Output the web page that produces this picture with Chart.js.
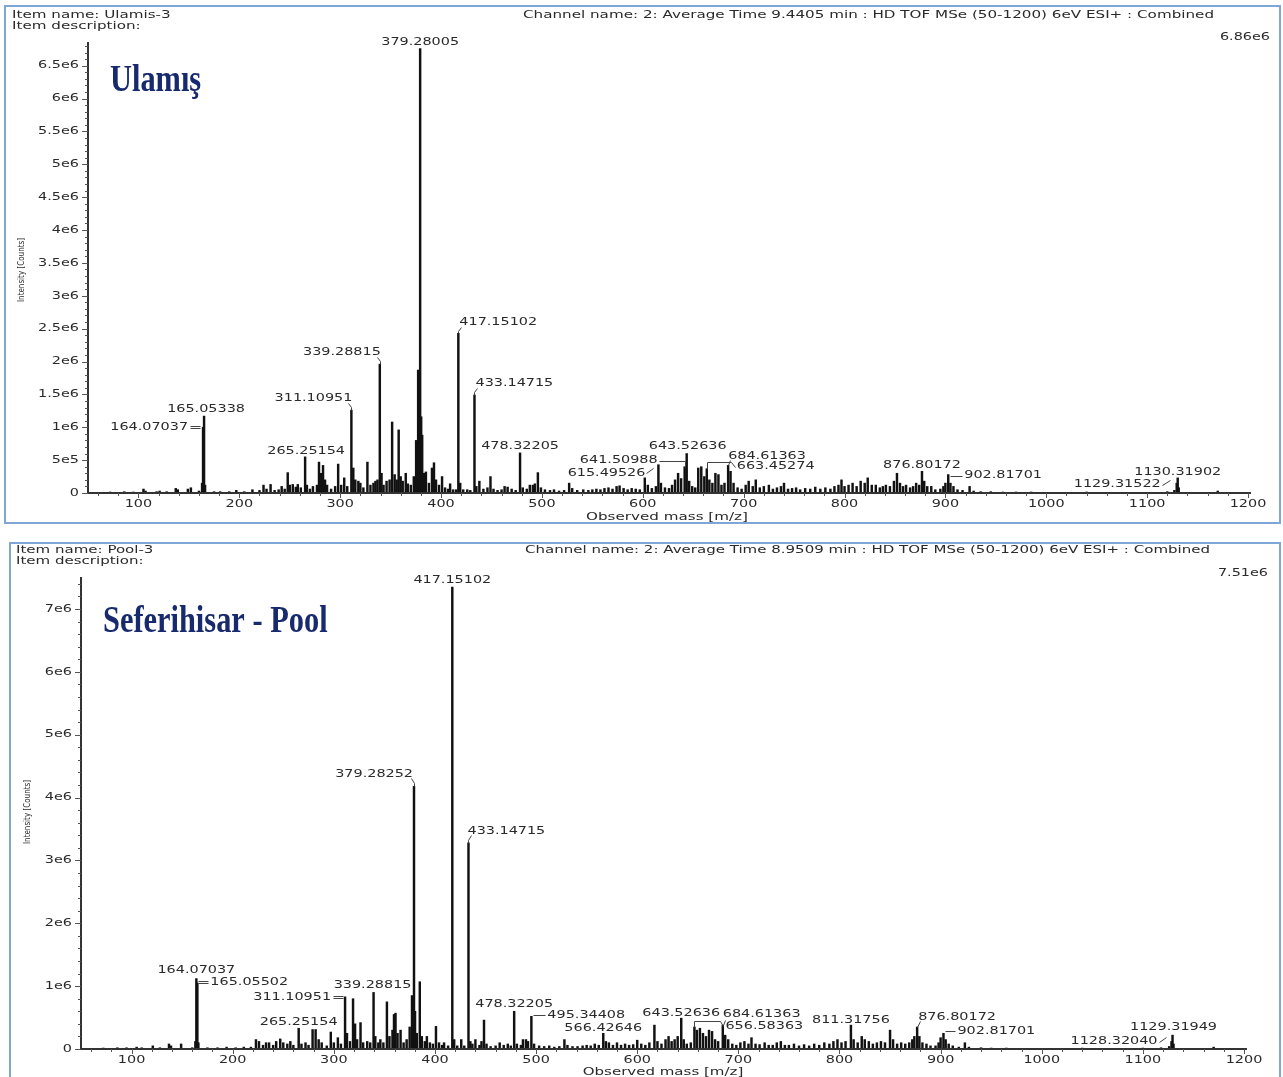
<!DOCTYPE html>
<html><head><meta charset="utf-8">
<script src="https://cdn.jsdelivr.net/npm/chart.js@4.4.1/dist/chart.umd.min.js"></script>
<style>
html,body{margin:0;padding:0;background:#fff;overflow:hidden;width:1283px;height:1077px;}
.frame{position:absolute;box-sizing:border-box;border:2px solid #7ea6d9;}
canvas{position:absolute;left:0;}
</style></head><body>
<div class="frame" style="left:4px;top:5px;width:1277px;height:519px"></div>
<div class="frame" style="left:9px;top:542px;width:1272px;height:560px"></div>
<canvas id="c1" width="1283" height="533" style="top:0px"></canvas>
<canvas id="c2" width="1283" height="544" style="top:533px"></canvas>
<script>
// ---------------- DATA ----------------
const xTickValues = [100,200,300,400,500,600,700,800,900,1000,1100,1200];
const xTickLabels = ['100','200','300','400','500','600','700','800','900','1000','1100','1200'];

// Intensities in units of 1e6 counts
const yTickValues1 = [0,0.5,1,1.5,2,2.5,3,3.5,4,4.5,5,5.5,6,6.5];
const yTickLabels1 = ['0','5e5','1e6','1.5e6','2e6','2.5e6','3e6','3.5e6','4e6','4.5e6','5e6','5.5e6','6e6','6.5e6'];
const yTickValues2 = [0,1,2,3,4,5,6,7];
const yTickLabels2 = ['0','1e6','2e6','3e6','4e6','5e6','6e6','7e6'];
const maxLabel1 = '6.86e6', yMax1 = 6.86;
const maxLabel2 = '7.51e6', yMax2 = 7.51;

// [m/z, intensity (1e6 counts)]
const spectrum1 = [
[58,0.01],[72,0.015],[86,0.02],[95,0.015],[105,0.06],[107,0.03],[118,0.02],[121,0.03],[128,0.02],[137,0.07],[139,0.05],[149,0.06],[152,0.08],[160,0.03],[163.1,0.15],[164.07,1.0],[165.05,1.17],[166.06,0.12],[175,0.02],[181,0.02],[190,0.02],[197,0.04],[205,0.02],[213,0.05],[220,0.04],[224,0.12],[227,0.06],[231,0.13],[235,0.04],[239,0.05],[242,0.1],[245,0.06],[248,0.31],[250,0.12],[253,0.13],[256,0.09],[258,0.13],[261,0.08],[265.25,0.55],[267,0.12],[270,0.06],[273,0.1],[277,0.12],[279,0.47],[281,0.3],[283,0.42],[285,0.2],[287,0.12],[291,0.06],[295,0.1],[298,0.44],[301,0.12],[304,0.23],[307,0.1],[311.11,1.26],[313,0.38],[315,0.2],[318,0.18],[320,0.15],[323,0.08],[327,0.47],[330,0.12],[333,0.15],[335,0.18],[337,0.2],[339.29,1.96],[341,0.3],[343,0.12],[346,0.18],[349,0.2],[351.5,1.08],[354,0.28],[356,0.2],[358,0.96],[360,0.25],[362,0.18],[365,0.3],[367,0.14],[370,0.12],[373,0.25],[375.3,0.8],[377.3,1.87],[379.28,6.76],[380.3,1.16],[381.3,0.88],[383,0.3],[385,0.32],[388,0.15],[391,0.38],[393,0.46],[395,0.2],[398,0.12],[401,0.25],[404,0.08],[407,0.06],[409,0.14],[412,0.05],[415,0.05],[417.15,2.43],[419,0.15],[422,0.05],[426,0.05],[429,0.04],[433.15,1.49],[435,0.1],[438,0.18],[442,0.06],[446,0.08],[449,0.25],[452,0.06],[456,0.04],[460,0.05],[463,0.1],[466,0.09],[470,0.06],[474,0.04],[478.32,0.61],[481,0.08],[485,0.06],[488,0.12],[491,0.12],[493,0.14],[496,0.31],[499,0.08],[503,0.05],[508,0.04],[512,0.05],[517,0.03],[522,0.04],[527,0.15],[530,0.07],[535,0.04],[541,0.05],[546,0.04],[550,0.05],[554,0.06],[558,0.05],[562,0.07],[566,0.08],[570,0.06],[574,0.1],[577,0.11],[581,0.07],[585,0.05],[589,0.07],[593,0.06],[597,0.05],[602,0.23],[605,0.12],[609,0.07],[613,0.1],[615.5,0.43],[618,0.15],[622,0.08],[626,0.07],[629,0.12],[632,0.2],[635,0.3],[638,0.22],[641.51,0.4],[643.53,0.6],[646,0.18],[649,0.1],[652,0.08],[655,0.38],[658,0.4],[661,0.25],[663.45,0.37],[666,0.2],[669,0.15],[672,0.3],[675,0.28],[678,0.12],[681,0.15],[684.61,0.42],[687,0.33],[690,0.15],[694,0.08],[698,0.06],[702,0.12],[705,0.18],[709,0.1],[712,0.2],[716,0.08],[720,0.1],[725,0.12],[729,0.06],[733,0.08],[737,0.1],[740,0.15],[744,0.06],[748,0.07],[752,0.08],[756,0.05],[761,0.07],[766,0.06],[771,0.09],[776,0.06],[781,0.08],[786,0.06],[790,0.1],[794,0.12],[797,0.2],[800,0.1],[804,0.12],[808,0.15],[812,0.1],[816,0.18],[820,0.15],[823,0.23],[827,0.12],[831,0.12],[835,0.08],[838,0.1],[841,0.12],[845,0.1],[849,0.18],[852,0.3],[855,0.15],[858,0.1],[861,0.12],[865,0.08],[868,0.1],[871,0.15],[874,0.12],[876.8,0.33],[879,0.18],[882,0.1],[886,0.1],[890,0.05],[895,0.06],[898,0.1],[900,0.15],[902.82,0.28],[905,0.15],[908,0.1],[912,0.05],[917,0.04],[924,0.1],[928,0.03],[935,0.02],[945,0.02],[957,0.015],[970,0.015],[985,0.015],[1000,0.01],[1020,0.01],[1040,0.015],[1060,0.01],[1080,0.01],[1100,0.01],[1120,0.02],[1127,0.04],[1129.32,0.15],[1130.32,0.23],[1131.3,0.08],[1145,0.01],[1170,0.03],[1185,0.01]
];

const spectrum2 = [
[58,0.01],[72,0.015],[86,0.02],[95,0.02],[105,0.03],[110,0.02],[121,0.05],[128,0.02],[137,0.08],[139,0.05],[149,0.08],[160,0.02],[163.1,0.12],[164.07,1.12],[165.06,1.05],[166.06,0.1],[175,0.02],[185,0.02],[194,0.03],[203,0.02],[211,0.03],[218,0.03],[223,0.15],[226,0.12],[230,0.06],[233,0.1],[236,0.1],[240,0.06],[243,0.12],[247,0.16],[250,0.1],[254,0.08],[257,0.12],[260,0.06],[265.25,0.33],[268,0.08],[272,0.1],[275,0.06],[279,0.31],[282,0.31],[285,0.15],[288,0.1],[293,0.05],[297,0.27],[300,0.1],[304,0.18],[307,0.08],[311.11,0.83],[313,0.25],[316,0.12],[319,0.8],[321,0.4],[323,0.15],[326.4,0.42],[329,0.1],[333,0.12],[336,0.1],[339.29,0.9],[341,0.2],[344,0.1],[346,0.15],[349,0.1],[352.5,0.75],[355,0.2],[358,0.3],[359.5,0.55],[361,0.57],[363,0.25],[366,0.3],[369,0.1],[372,0.15],[375,0.35],[377.3,0.85],[379.28,4.18],[380.3,0.6],[382,0.25],[385,1.07],[387,0.2],[390,0.12],[392,0.2],[395,0.1],[398,0.08],[401,0.36],[404,0.1],[407,0.06],[409,0.1],[413,0.05],[417.15,7.35],[419,0.15],[422,0.05],[426,0.15],[429,0.05],[433.15,3.28],[435,0.12],[437,0.08],[440,0.15],[444,0.06],[446,0.12],[448.5,0.46],[451,0.08],[455,0.04],[460,0.05],[464,0.1],[468,0.06],[472,0.08],[475,0.05],[478.32,0.6],[481,0.08],[485,0.06],[487,0.15],[490,0.15],[492,0.12],[495.34,0.52],[498,0.08],[503,0.05],[508,0.04],[513,0.05],[518,0.03],[523,0.04],[528,0.15],[531,0.06],[536,0.04],[541,0.04],[546,0.05],[550,0.06],[554,0.05],[558,0.08],[562,0.06],[566.43,0.25],[569,0.12],[572,0.1],[576,0.06],[580,0.1],[584,0.06],[588,0.08],[592,0.06],[596,0.07],[600,0.14],[604,0.08],[608,0.06],[612,0.1],[617,0.38],[620,0.12],[624,0.08],[628,0.15],[631,0.2],[634,0.12],[637,0.15],[640,0.2],[643.53,0.49],[646,0.15],[649,0.08],[653,0.1],[656.58,0.35],[659,0.3],[662,0.33],[665,0.25],[668,0.2],[671,0.3],[674,0.28],[677,0.15],[680,0.12],[684.61,0.38],[687,0.22],[690,0.15],[694,0.08],[698,0.06],[702,0.1],[706,0.12],[710,0.08],[713,0.18],[717,0.08],[721,0.07],[726,0.1],[730,0.06],[734,0.06],[738,0.1],[742,0.12],[746,0.06],[750,0.06],[755,0.08],[760,0.05],[765,0.07],[770,0.05],[775,0.08],[780,0.06],[785,0.1],[790,0.08],[794,0.12],[798,0.15],[802,0.1],[806,0.12],[811.32,0.38],[814,0.15],[818,0.1],[822,0.2],[825,0.15],[829,0.12],[833,0.08],[837,0.1],[841,0.12],[845,0.1],[850,0.3],[853,0.15],[857,0.08],[861,0.1],[865,0.08],[869,0.1],[872,0.15],[874,0.2],[876.8,0.35],[879,0.2],[882,0.1],[886,0.08],[890,0.05],[895,0.05],[898,0.1],[900,0.18],[902.82,0.25],[905,0.15],[908,0.08],[912,0.05],[918,0.03],[924,0.1],[928,0.03],[940,0.02],[950,0.015],[965,0.015],[980,0.01],[1000,0.01],[1020,0.01],[1040,0.015],[1060,0.01],[1080,0.01],[1100,0.015],[1118,0.02],[1126,0.04],[1128.32,0.12],[1129.32,0.22],[1130.3,0.08],[1145,0.01],[1170,0.03],[1190,0.01]
];

// Peak annotations (text is the mass)
const peakLabels1 = ['379.28005','417.15102','433.14715','339.28815','311.10951','165.05338','164.07037','265.25154','478.32205','643.52636','641.50988','684.61363','663.45274','615.49526','876.80172','902.81701','1130.31902','1129.31522'];
const peakLabels2 = ['417.15102','379.28252','433.14715','164.07037','165.05502','311.10951','339.28815','265.25154','478.32205','495.34408','566.42646','643.52636','684.61363','656.58363','811.31756','876.80172','902.81701','1129.31949','1128.32040'];

const panelText1 = {
  item: 'Item name: Ulamis-3', desc: 'Item description:',
  channel: 'Channel name: 2: Average Time 9.4405 min : HD TOF MSe (50-1200) 6eV ESI+ : Combined',
  title: 'Ulamış'
};
const panelText2 = {
  item: 'Item name: Pool-3', desc: 'Item description:',
  channel: 'Channel name: 2: Average Time 8.9509 min : HD TOF MSe (50-1200) 6eV ESI+ : Combined',
  title: 'Seferihisar - Pool'
};
const yAxisTitle = 'Intensity [Counts]';
const xAxisTitle = 'Observed mass [m/z]';

// ---------------- LAYOUT (label placement relative to peak tops) ----------------
const labelLayout1 = {
  '379.28005':{dx:0,dy:-6,al:'center'},
  '417.15102':{dx:1,dy:-11,al:'left',ld:[[[0,0],[0,-2],[3,-6]]]},
  '433.14715':{dx:1,dy:-12,al:'left',ld:[[[0,0],[0,-3],[3,-7]]]},
  '339.28815':{dx:1,dy:-12,al:'right',ld:[[[0,0],[0,-3],[-3,-7]]]},
  '311.10951':{dx:1,dy:-12,al:'right',ld:[[[0,0],[0,-3],[-3,-7]]]},
  '165.05338':{dx:2,dy:-7,al:'center'},
  '164.07037':{dx:-15,dy:0,al:'right',ld:[[[-13,-1],[-3,-1]],[[-13,1],[-3,1]]]},
  '265.25154':{dx:1,dy:-6,al:'center'},
  '478.32205':{dx:0,dy:-7,al:'center'},
  '643.52636':{dx:1,dy:-7,al:'center'},
  '641.50988':{dx:-27,dy:-6,al:'right',ld:[[[-26,-6],[0,-6],[0,0]]]},
  '684.61363':{dx:0,dy:-9,al:'left',ld:[[[0,0],[2,-5]]]},
  '663.45274':{dx:30,dy:-2,al:'left',ld:[[[0,0],[0,-7],[24,-7],[28,-2]]]},
  '615.49526':{dx:-13,dy:9,al:'right',ld:[[[-12,8],[-5,3]]]},
  '876.80172':{dx:0,dy:-6,al:'center'},
  '902.81701':{dx:16,dy:1,al:'left',ld:[[[2,1],[14,1]]]},
  '1130.31902':{dx:0,dy:-6,al:'center'},
  '1129.31522':{dx:-16,dy:1,al:'right',ld:[[[-15,2],[-7,-3]]]}
};
const labelLayout2 = {
  '417.15102':{dx:0,dy:-7,al:'center'},
  '379.28252':{dx:-1,dy:-12,al:'right',ld:[[[0,0],[0,-3],[-3,-8]]]},
  '433.14715':{dx:-1,dy:-12,al:'left',ld:[[[0,0],[0,-3],[3,-8]]]},
  '164.07037':{dx:0,dy:-8,al:'center'},
  '165.05502':{dx:13,dy:-1,al:'left',ld:[[[1,-2],[11,-2]],[[1,0],[11,0]]]},
  '311.10951':{dx:-14,dy:0,al:'right',ld:[[[-12,-1],[-2,-1]],[[-12,1],[-2,1]]]},
  '339.28815':{dx:-1,dy:-7,al:'center'},
  '265.25154':{dx:0,dy:-6,al:'center'},
  '478.32205':{dx:0,dy:-7,al:'center'},
  '495.34408':{dx:16,dy:-1,al:'left',ld:[[[2,-1],[14,-1]]]},
  '566.42646':{dx:0,dy:-5,al:'center'},
  '643.52636':{dx:0,dy:-5,al:'center'},
  '684.61363':{dx:0,dy:-11,al:'left',ld:[[[0,0],[2,-5]]]},
  '656.58363':{dx:31,dy:-1,al:'left',ld:[[[0,0],[0,-6],[26,-6],[29,-1]]]},
  '811.31756':{dx:0,dy:-5,al:'center'},
  '876.80172':{dx:1,dy:-10,al:'left',ld:[[[0,0],[3,-6]]]},
  '902.81701':{dx:14,dy:-2,al:'left',ld:[[[2,-2],[12,-2]]]},
  '1129.31949':{dx:1,dy:-8,al:'center'},
  '1128.32040':{dx:-14,dy:0,al:'right',ld:[[[-13,1],[-6,-4]]]}
};

const TEXT_COLOR = '#2a2a2a';
const FONT = '"DejaVu Sans"';
const LBL_SIZE = 10.5, LBL_SX = 1.37;
const HDR_SIZE = 10;

function drawText(ctx, s, x, y, o) {
  ctx.save();
  ctx.font = (o.weight || 'normal') + ' ' + o.size + 'px ' + (o.family || FONT);
  ctx.fillStyle = o.color || TEXT_COLOR;
  ctx.textBaseline = o.baseline || 'middle';
  ctx.textAlign = 'left';
  const raw = ctx.measureText(s).width;
  let sx = o.sx || 1;
  if (o.width) sx = o.width / raw;
  const w = raw * sx;
  ctx.translate(x, y);
  if (o.rot) ctx.rotate(o.rot);
  const x0 = o.align === 'center' ? -w / 2 : (o.align === 'right' ? -w : 0);
  ctx.translate(x0, 0);
  ctx.scale(sx, 1);
  ctx.fillText(s, 0, 0);
  ctx.restore();
  return sx;
}

function decorPlugin(p) {
  return {
    id: 'decor',
    afterDraw(chart) {
      const ctx = chart.ctx, a = chart.chartArea, xs = chart.scales.x, ys = chart.scales.y;
      const data = p.spectrum;
      ctx.save();
      // axes
      ctx.strokeStyle = '#333';
      ctx.lineWidth = 2;
      ctx.beginPath();
      ctx.moveTo(a.left, a.top); ctx.lineTo(a.left, a.bottom + 1);
      ctx.moveTo(a.left - 1, a.bottom); ctx.lineTo(a.right + 3, a.bottom);
      ctx.stroke();
      ctx.lineWidth = 1;
      ctx.strokeStyle = '#555';
      // y minor ticks (within the axis range only)
      const nMinor = Math.floor(p.yMax / p.yMinor + 1e-9);
      ctx.beginPath();
      for (let i = 0; i <= nMinor; i++) {
        const yp = Math.round(ys.getPixelForValue(i * p.yMinor)) + 0.5;
        ctx.moveTo(a.left - 3, yp); ctx.lineTo(a.left, yp);
      }
      // x minor ticks
      for (let v = 60; v <= 1200; v += 20) {
        const xp = Math.round(xs.getPixelForValue(v)) + 0.5;
        ctx.moveTo(xp, a.bottom); ctx.lineTo(xp, a.bottom + 3);
      }
      ctx.stroke();
      // major ticks + labels
      ctx.beginPath();
      p.yTickValues.forEach((v) => {
        const yp = Math.round(ys.getPixelForValue(v)) + 0.5;
        ctx.moveTo(a.left - 6, yp); ctx.lineTo(a.left, yp);
      });
      xTickValues.forEach((v) => {
        const xp = Math.round(xs.getPixelForValue(v)) + 0.5;
        ctx.moveTo(xp, a.bottom); ctx.lineTo(xp, a.bottom + 5);
      });
      ctx.stroke();
      p.yTickValues.forEach((v, i) => {
        drawText(ctx, p.yTickLabels[i], a.left - 9, ys.getPixelForValue(v), {size: LBL_SIZE, sx: LBL_SX, align: 'right'});
      });
      xTickValues.forEach((v, i) => {
        drawText(ctx, xTickLabels[i], xs.getPixelForValue(v), a.bottom + 11, {size: LBL_SIZE, sx: LBL_SX, align: 'center'});
      });
      // peak labels
      ctx.strokeStyle = '#444';
      ctx.lineWidth = 1;
      p.peakLabels.forEach((lab) => {
        const m = parseFloat(lab);
        let best = data[0];
        data.forEach((d) => { if (Math.abs(d[0] - m) < Math.abs(best[0] - m)) best = d; });
        const px = xs.getPixelForValue(best[0]);
        const py = ys.getPixelForValue(best[1]);
        const L = p.layout[lab];
        if (L.ld) {
          L.ld.forEach((poly) => {
            ctx.beginPath();
            poly.forEach((pt, k) => {
              const X = Math.round(px + pt[0]) + 0.5, Y = Math.round(py + pt[1]) + 0.5;
              if (k === 0) ctx.moveTo(X, Y); else ctx.lineTo(X, Y);
            });
            ctx.stroke();
          });
        }
        drawText(ctx, lab, px + L.dx, py + L.dy, {size: LBL_SIZE, sx: LBL_SX, align: L.al});
      });
      // headers
      const t = p.text;
      const hsx = drawText(ctx, t.channel, p.hdr.chX, p.hdr.y1, {size: HDR_SIZE, width: p.hdr.chW});
      drawText(ctx, t.item, p.hdr.x, p.hdr.y1, {size: HDR_SIZE, sx: hsx});
      drawText(ctx, t.desc, p.hdr.x, p.hdr.y2, {size: HDR_SIZE, sx: hsx});
      drawText(ctx, p.maxLabel, p.hdr.maxX, p.hdr.maxY, {size: LBL_SIZE, sx: LBL_SX, align: 'right'});
      // axis titles
      drawText(ctx, xAxisTitle, p.hdr.xtX, p.hdr.xtY, {size: HDR_SIZE, sx: hsx, align: 'center'});
      drawText(ctx, yAxisTitle, p.hdr.ytX, p.hdr.ytY, {size: 8, width: 64, align: 'center', rot: -Math.PI / 2});
      // big title
      drawText(ctx, t.title, p.hdr.tX, p.hdr.tY, {size: 38, weight: 'bold', family: '"Liberation Serif"', sx: 0.8, baseline: 'alphabetic', color: '#182a6e'});
      ctx.restore();
    }
  };
}

function makeChart(id, p) {
  return new Chart(document.getElementById(id), {
    type: 'bar',
    data: {datasets: [{
      data: p.spectrum.map((d) => ({x: d[0], y: d[1]})),
      backgroundColor: '#111', borderWidth: 0, barThickness: 1.8, grouped: false
    }]},
    options: {
      responsive: false, animation: false, devicePixelRatio: 1,
      layout: {padding: p.pad},
      plugins: {legend: {display: false}, tooltip: {enabled: false}},
      scales: {
        x: {type: 'linear', min: 50, max: 1200, offset: false, display: false},
        y: {type: 'linear', min: 0, max: p.yMax, display: false}
      }
    },
    plugins: [decorPlugin(p)]
  });
}

makeChart('c1', {
  spectrum: spectrum1, yMax: yMax1, yMinor: 0.1,
  yTickValues: yTickValues1, yTickLabels: yTickLabels1,
  peakLabels: peakLabels1, layout: labelLayout1, text: panelText1, maxLabel: maxLabel1,
  pad: {left: 88, right: 35, top: 42, bottom: 40},
  hdr: {x: 12, y1: 15, y2: 26, chX: 523, chW: 691, maxX: 1270, maxY: 37, xtX: 667, xtY: 517, ytX: 22, ytY: 270, tX: 110, tY: 91}
});
makeChart('c2', {
  spectrum: spectrum2, yMax: yMax2, yMinor: 0.2,
  yTickValues: yTickValues2, yTickLabels: yTickLabels2,
  peakLabels: peakLabels2, layout: labelLayout2, text: panelText2, maxLabel: maxLabel2,
  pad: {left: 81, right: 39, top: 44, bottom: 28},
  hdr: {x: 16, y1: 17, y2: 28, chX: 525, chW: 685, maxX: 1268, maxY: 40, xtX: 663, xtY: 539, ytX: 28, ytY: 279, tX: 103, tY: 99}
});
</script>
</body></html>
